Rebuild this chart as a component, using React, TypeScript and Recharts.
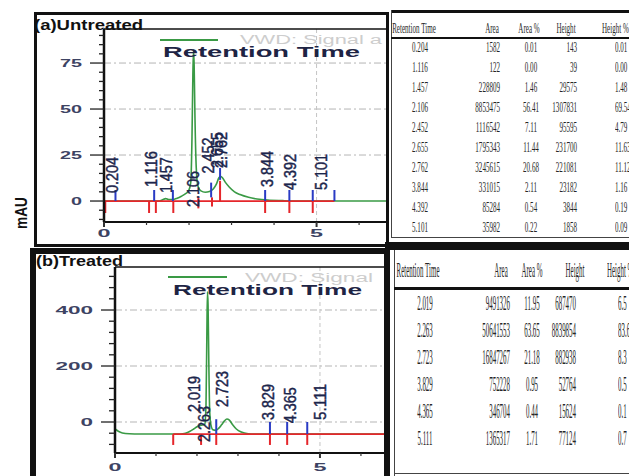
import React from 'react';
import { ComposedChart, Line, XAxis, YAxis, ReferenceLine, ReferenceDot } from 'recharts';

// (a) untreated – green detector trace, mAU vs min
const untreatedTrace = [
  { t: 0, v: 0 }, { t: 1.3, v: 0 }, { t: 1.38, v: 0.7 }, { t: 1.45, v: 1.3 },
  { t: 1.52, v: 0.8 }, { t: 1.62, v: 0.8 }, { t: 1.72, v: 1.5 }, { t: 1.82, v: 2.6 },
  { t: 1.92, v: 4 }, { t: 1.99, v: 5.5 }, { t: 2.04, v: 10 }, { t: 2.07, v: 35 },
  { t: 2.09, v: 68 }, { t: 2.105, v: 82 }, { t: 2.12, v: 74 }, { t: 2.14, v: 45 },
  { t: 2.17, v: 18 }, { t: 2.21, v: 8 }, { t: 2.28, v: 5.5 }, { t: 2.38, v: 4.8 },
  { t: 2.48, v: 5.2 }, { t: 2.57, v: 6.5 }, { t: 2.64, v: 9 }, { t: 2.7, v: 12.5 },
  { t: 2.74, v: 13.5 }, { t: 2.79, v: 12.5 }, { t: 2.86, v: 10 }, { t: 2.95, v: 7.5 },
  { t: 3.07, v: 5 }, { t: 3.2, v: 3.5 }, { t: 3.4, v: 2 }, { t: 3.6, v: 1.1 },
  { t: 3.85, v: 0.5 }, { t: 4.2, v: 0.2 }, { t: 4.6, v: 0 }, { t: 6.68, v: 0 },
];
const untreatedPeaks = [0.204, 1.116, 1.457, 2.106, 2.452, 2.655, 2.762, 3.844, 4.392, 5.101];
const untreatedLabelLevel = [4.3, 7.6, 4.3, -3.3, 15, 18, 18, 7.6, 6, 6];
const untreatedRed = [
  { t: 0.03, from: 0, to: -6.5 }, { t: 1.06, from: 0, to: -6.5 }, { t: 1.22, from: 0, to: -6.5 },
  { t: 1.63, from: 0, to: -6.5 }, { t: 2.22, from: 2, to: -4 }, { t: 2.54, from: 2, to: -3 },
  { t: 2.73, from: 11, to: 0 }, { t: 3.79, from: 0, to: -6.5 }, { t: 4.36, from: 0, to: -6.5 },
  { t: 4.91, from: 0, to: -6.5 },
];
const untreatedBlue = [
  { t: 0.27, from: 0, to: 6 }, { t: 1.18, from: 0, to: 6 }, { t: 1.62, from: 0, to: 6 },
  { t: 2.52, from: 2, to: 10 }, { t: 2.73, from: 11.5, to: 18 }, { t: 3.79, from: 0, to: 6 },
  { t: 4.36, from: 0, to: 6 }, { t: 4.91, from: 0, to: 6 }, { t: 5.42, from: 0, to: 6 },
];
const untreatedBaseline = { from: 0, to: 5.42, level: 0 };

// (b) treated
const treatedTrace = [
  { t: 0, v: -25 }, { t: 0.08, v: -33 }, { t: 0.18, v: -39 }, { t: 0.35, v: -42 },
  { t: 0.6, v: -43 }, { t: 1.6, v: -43 }, { t: 1.72, v: -40 }, { t: 1.82, v: -34 },
  { t: 1.92, v: -25 }, { t: 2.0, v: -17 }, { t: 2.08, v: -12 }, { t: 2.14, v: -11 },
  { t: 2.19, v: -8 }, { t: 2.22, v: 60 }, { t: 2.24, v: 300 }, { t: 2.255, v: 465 },
  { t: 2.27, v: 420 }, { t: 2.29, v: 200 }, { t: 2.31, v: 40 }, { t: 2.34, v: -10 },
  { t: 2.39, v: -28 }, { t: 2.45, v: -30 }, { t: 2.52, v: -24 }, { t: 2.6, v: -10 },
  { t: 2.67, v: 4 }, { t: 2.73, v: 11 }, { t: 2.79, v: 7 }, { t: 2.87, v: -10 },
  { t: 2.96, v: -25 }, { t: 3.08, v: -36 }, { t: 3.25, v: -42 }, { t: 3.4, v: -43 },
  { t: 6.66, v: -43 },
];
const treatedPeaks = [2.019, 2.263, 2.723, 3.829, 4.365, 5.111];
const treatedLabelLevel = [36, -71, 54, 7, -4, 7];
const treatedRed = [
  { t: 1.42, from: -43, to: -82 }, { t: 2.1, from: -43, to: -82 }, { t: 2.47, from: -43, to: -82 },
  { t: 3.78, from: -43, to: -82 }, { t: 4.2, from: -43, to: -82 }, { t: 4.69, from: -43, to: -82 },
];
const treatedBlue = [
  { t: 2.47, from: -43, to: 10 }, { t: 3.78, from: -43, to: 0 },
  { t: 4.2, from: -43, to: 0 }, { t: 4.69, from: -43, to: 0 },
];
const treatedBaseline = { from: 1.42, to: 6.66, level: -43 };

// peak tables
const tableHeaders = ['Retention Time', 'Area', 'Area %', 'Height', 'Height %'];
const untreatedRT = ['0.204', '1.116', '1.457', '2.106', '2.452', '2.655', '2.762', '3.844', '4.392', '5.101'];
const untreatedArea = ['1582', '122', '228809', '8853475', '1116542', '1795343', '3245615', '331015', '85284', '35982'];
const untreatedAreaPct = ['0.01', '0.00', '1.46', '56.41', '7.11', '11.44', '20.68', '2.11', '0.54', '0.22'];
const untreatedHeight = ['143', '39', '29575', '1307831', '95595', '231700', '221081', '23182', '3844', '1858'];
const untreatedHeightPct = ['0.01', '0.00', '1.48', '69.54', '4.79', '11.63', '11.12', '1.16', '0.19', '0.09'];

const treatedRT = ['2.019', '2.263', '2.723', '3.829', '4.365', '5.111'];
const treatedArea = ['9491326', '50641553', '16847267', '752228', '346704', '1365317'];
const treatedAreaPct = ['11.95', '63.65', '21.18', '0.95', '0.44', '1.71'];
const treatedHeight = ['687470', '8839854', '882938', '52764', '15624', '77124'];
const treatedHeightPct = ['6.5', '83.6', '8.3', '0.5', '0.1', '0.7'];

const GREEN = '#3a9a45';
const RED = '#e5262b';
const BLUE = '#2a3bc4';
const AXIS_TEXT = '#3d4363';
const SANS = '"Liberation Sans", Arial, sans-serif';

type Mark = { t: number; from: number; to: number };

interface ChromProps {
  width: number;
  height: number;
  top: number;
  yAxisWidth: number;
  xAxisHeight: number;
  xMax: number;
  yMin: number;
  yMax: number;
  yTicks: number[];
  yMajor: number[];
  gridY: number[];
  trace: { t: number; v: number }[];
  red: Mark[];
  blue: Mark[];
  peaks: number[];
  levels: number[];
  baseline: { from: number; to: number; level: number };
  labelDx: number;
  charW: number;
  minorLen: number;
  xLabelOffset: number;
}

const Chromatogram: React.FC<ChromProps> = (p) => {
  const xTicks = [0, 1, 2, 3, 4, 5, 6];

  const renderYTick = (tp: any) => {
    const v = tp.payload.value;
    const major = p.yMajor.includes(v);
    const s = String(v);
    return (
      <g>
        <line x1={tp.x} x2={tp.x - (major ? 14 : p.minorLen)} y1={tp.y} y2={tp.y} stroke="#222" strokeWidth={1.3} />
        {major && (
          <text x={tp.x - 22} y={tp.y} dy="0.36em" textAnchor="end" fontFamily={SANS} fontSize={11}
            fontWeight={700} fill={AXIS_TEXT} textLength={s.length * p.charW} lengthAdjust="spacingAndGlyphs">
            {s}
          </text>
        )}
      </g>
    );
  };

  const renderXTick = (tp: any) => {
    const v = tp.payload.value;
    const major = v % 5 === 0;
    return (
      <g>
        <line x1={tp.x} x2={tp.x} y1={tp.y} y2={tp.y + (major ? 5 : 3)} stroke="#333" strokeWidth={major ? 2 : 1.2} />
        {major && (
          <text x={tp.x} y={tp.y + p.xLabelOffset} dy="0.36em" textAnchor="middle" fontFamily={SANS} fontSize={11}
            fontWeight={700} fill={AXIS_TEXT} textLength={13} lengthAdjust="spacingAndGlyphs">
            {v}
          </text>
        )}
      </g>
    );
  };

  return (
    <ComposedChart width={p.width} height={p.height} margin={{ top: p.top, right: 0, bottom: 0, left: 0 }}>
      <XAxis type="number" dataKey="t" domain={[0, p.xMax]} ticks={xTicks} interval={0} allowDataOverflow
        height={p.xAxisHeight} axisLine={{ stroke: '#111', strokeWidth: 2 }} tickLine={false}
        tickSize={0} tickMargin={0} tick={renderXTick} />
      <YAxis type="number" domain={[p.yMin, p.yMax]} ticks={p.yTicks} interval={0} allowDataOverflow
        width={p.yAxisWidth} axisLine={{ stroke: '#111', strokeWidth: 2.5 }} tickLine={false}
        tickSize={0} tickMargin={0} tick={renderYTick} />
      {p.gridY.map((g) => (
        <ReferenceLine key={`gy${g}`} y={g} stroke="#b5b5b5" strokeDasharray="7 3 2 3" />
      ))}
      <ReferenceLine x={5} stroke="#c4c4c4" strokeDasharray="4 3" />
      <Line data={p.trace} dataKey="v" type="monotone" stroke={GREEN} strokeWidth={1.6}
        dot={false} isAnimationActive={false} />
      <ReferenceLine segment={[{ x: p.baseline.from, y: p.baseline.level }, { x: p.baseline.to, y: p.baseline.level }]}
        stroke={RED} strokeWidth={1.8} />
      {p.red.map((m, i) => (
        <ReferenceLine key={`r${i}`} segment={[{ x: m.t, y: m.from }, { x: m.t, y: m.to }]} stroke={RED} strokeWidth={2} />
      ))}
      {p.blue.map((m, i) => (
        <ReferenceLine key={`b${i}`} segment={[{ x: m.t, y: m.from }, { x: m.t, y: m.to }]} stroke={BLUE} strokeWidth={2} />
      ))}
      {p.peaks.map((t, i) => (
        <ReferenceDot key={`l${i}`} x={t} y={p.levels[i]} r={0} ifOverflow="visible"
          shape={(sp: any) => (
            <text x={sp.cx + p.labelDx} y={sp.cy} dy="0.36em" transform={`rotate(-90 ${sp.cx + p.labelDx} ${sp.cy})`}
              fontFamily={SANS} fontSize={16} fill="#1c254c" stroke="#1c254c" strokeWidth={0.45}
              textLength={36} lengthAdjust="spacingAndGlyphs">
              {t.toFixed(3)}
            </text>
          )} />
      ))}
    </ComposedChart>
  );
};

type Align = 'left' | 'center' | 'right';

const Cell: React.FC<{ x: number; y: number; align: Align; text: string; size: number; squeeze: number }> = ({
  x, y, align, text, size, squeeze,
}) => {
  const shift = align === 'center' ? '-50%' : align === 'right' ? '-100%' : '0';
  return (
    <div style={{
      position: 'absolute', left: x, top: y - size / 2, fontSize: size, lineHeight: `${size}px`,
      whiteSpace: 'nowrap', fontFamily: '"Liberation Serif", "Times New Roman", serif', color: '#262626',
      transform: `translateX(${shift}) scaleX(${squeeze})`, transformOrigin: align,
    }}>
      {text}
    </div>
  );
};

interface TableProps {
  columns: string[][];
  headX: number[];
  headAlign: Align[];
  colX: number[];
  colAlign: Align[];
  headY: number;
  rowY: number;
  rowStep: number;
  size: number;
  squeeze: number;
}

const PeakTable: React.FC<TableProps> = (t) => (
  <>
    {tableHeaders.map((h, i) => (
      <Cell key={`h${i}`} x={t.headX[i]} y={t.headY} align={t.headAlign[i]} text={h} size={t.size} squeeze={t.squeeze} />
    ))}
    {t.columns.map((col, c) =>
      col.map((val, r) => (
        <Cell key={`c${c}-${r}`} x={t.colX[c]} y={t.rowY + r * t.rowStep} align={t.colAlign[c]} text={val}
          size={t.size} squeeze={t.squeeze} />
      ))
    )}
  </>
);

const abs = (s: React.CSSProperties): React.CSSProperties => ({ position: 'absolute', boxSizing: 'border-box', ...s });

export default function App() {
  return (
    <div style={abs({ left: 0, top: 0, width: 629, height: 476, overflow: 'hidden', background: '#fff' })}>
      <div style={abs({ left: 0, top: 0 })}>
        <Chromatogram width={388} height={247} top={29} yAxisWidth={104} xAxisHeight={25} xMax={6.68}
          yMin={-11.4} yMax={93.5} yTicks={[-10, -5, 0, 5, 10, 15, 20, 25, 30, 35, 40, 45, 50, 55, 60, 65, 70, 75, 80, 85, 90]}
          yMajor={[0, 25, 50, 75]} gridY={[25, 50, 75]} trace={untreatedTrace} red={untreatedRed} blue={untreatedBlue}
          peaks={untreatedPeaks} levels={untreatedLabelLevel} baseline={untreatedBaseline} labelDx={0}
          charW={11} minorLen={5} xLabelOffset={11} />
      </div>
      <div style={abs({ left: 0, top: 245 })}>
        <Chromatogram width={388} height={231} top={22} yAxisWidth={115} xAxisHeight={23} xMax={6.66}
          yMin={-110.7} yMax={553.6} yTicks={[-80, -40, 0, 40, 80, 120, 160, 200, 240, 280, 320, 360, 400, 440, 480, 520]}
          yMajor={[0, 200, 400]} gridY={[0, 200, 400]} trace={treatedTrace} red={treatedRed} blue={treatedBlue}
          peaks={treatedPeaks} levels={treatedLabelLevel} baseline={treatedBaseline} labelDx={-4}
          charW={12.5} minorLen={6} xLabelOffset={14} />
      </div>

      <svg width={629} height={476} style={abs({ left: 0, top: 0, pointerEvents: 'none' })}>
        <text x={21} y={213} dy="0.35em" textAnchor="middle" transform="rotate(-90 21 213)" fontFamily={SANS}
          fontSize={16} fontWeight={700} fill="#111" textLength={32} lengthAdjust="spacingAndGlyphs">mAU</text>

        <line x1={104} x2={388} y1={29} y2={29} stroke="#111" strokeWidth={1.5} />
        <text x={34} y={30} fontFamily={SANS} fontSize={15} fontWeight={700} fill="#111" textLength={109}
          lengthAdjust="spacingAndGlyphs">(a)Untreated</text>
        <line x1={160} x2={218} y1={40} y2={40} stroke={GREEN} strokeWidth={2} />
        <text x={240} y={44} fontFamily={SANS} fontSize={12} fill="#cdcdcd" textLength={142}
          lengthAdjust="spacingAndGlyphs">VWD: Signal a</text>
        <text x={163} y={57} fontFamily={SANS} fontSize={15} fontWeight={700} fill="#1e2444" textLength={197}
          lengthAdjust="spacingAndGlyphs">Retention Time</text>

        <line x1={115} x2={388} y1={267} y2={267} stroke="#111" strokeWidth={1.5} />
        <text x={36} y={266} fontFamily={SANS} fontSize={15} fontWeight={700} fill="#111" textLength={87}
          lengthAdjust="spacingAndGlyphs">(b)Treated</text>
        <line x1={168} x2={227} y1={277} y2={277} stroke={GREEN} strokeWidth={2} />
        <text x={245} y={282} fontFamily={SANS} fontSize={12} fill="#cdcdcd" textLength={128}
          lengthAdjust="spacingAndGlyphs">VWD: Signal</text>
        <text x={173} y={295} fontFamily={SANS} fontSize={15} fontWeight={700} fill="#1e2444" textLength={189}
          lengthAdjust="spacingAndGlyphs">Retention Time</text>
      </svg>

      {/* panel frames */}
      <div style={abs({ left: 34, top: 12, width: 355, height: 235, border: '3px solid #111' })} />
      <div style={abs({ left: 30, top: 248, width: 360, height: 240, border: '6px solid #111' })} />

      {/* table (a) */}
      <div style={abs({ left: 391, top: 10, width: 250, height: 3, background: '#111' })} />
      <div style={abs({ left: 391, top: 10, width: 1, height: 228, background: '#444' })} />
      <div style={abs({ left: 391, top: 37, width: 250, height: 2, background: '#111' })} />
      <div style={abs({ left: 391, top: 237, width: 250, height: 1, background: '#444' })} />
      <PeakTable
        columns={[untreatedRT, untreatedArea, untreatedAreaPct, untreatedHeight, untreatedHeightPct]}
        headX={[414, 492, 529, 566, 602]} headAlign={['center', 'center', 'center', 'center', 'left']}
        colX={[420, 500, 531, 577, 615]} colAlign={['center', 'right', 'center', 'right', 'left']}
        headY={28} rowY={47} rowStep={20} size={15} squeeze={0.47} />

      {/* table (b) */}
      <div style={abs({ left: 385, top: 242, width: 250, height: 8, background: '#111' })} />
      <div style={abs({ left: 394, top: 250, width: 1, height: 226, background: '#444' })} />
      <div style={abs({ left: 394, top: 287, width: 250, height: 3, background: '#111' })} />
      <div style={abs({ left: 394, top: 473, width: 250, height: 1, background: '#444' })} />
      <PeakTable
        columns={[treatedRT, treatedArea, treatedAreaPct, treatedHeight, treatedHeightPct]}
        headX={[418, 501, 532, 575, 607]} headAlign={['center', 'center', 'center', 'center', 'left']}
        colX={[425, 510, 532, 576, 618]} colAlign={['center', 'right', 'center', 'right', 'left']}
        headY={270} rowY={303} rowStep={27} size={21} squeeze={0.33} />
    </div>
  );
}
